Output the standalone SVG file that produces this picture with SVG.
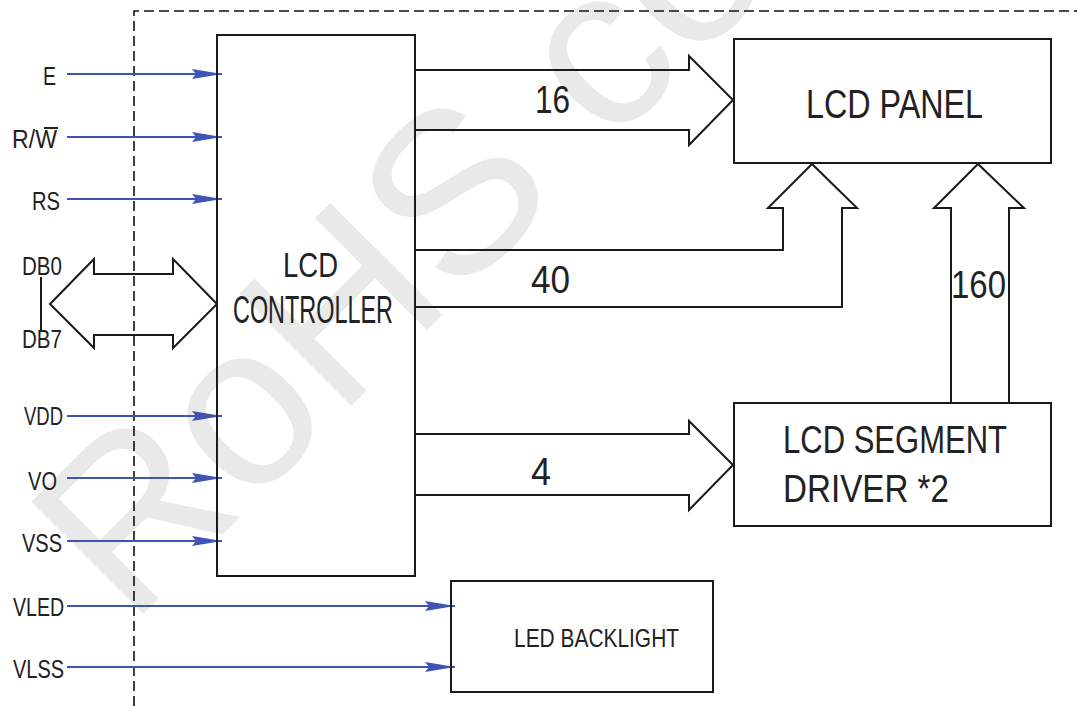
<svg xmlns="http://www.w3.org/2000/svg" width="1077" height="706" viewBox="0 0 1077 706">
<style>
.box{fill:none;stroke:#1a1a1a;stroke-width:2}
.bus{fill:none;stroke:#1a1a1a;stroke-width:2;stroke-linejoin:miter}
.sig{fill:none;stroke:#4054b4;stroke-width:2}
.dash{fill:none;stroke:#111;stroke-width:1.6;stroke-dasharray:10 5}
.t{font-family:"Liberation Sans",Arial,sans-serif;fill:#222}
.big{font-size:38px}
.lbl{font-size:25px}
.wm{font-family:"Liberation Sans",Arial,sans-serif;font-size:230px;fill:#e9e9e9}
</style>
<defs>
<marker id="ah" viewBox="0 0 30 10" refX="30" refY="5" markerWidth="30" markerHeight="10" markerUnits="userSpaceOnUse" orient="auto">
<path d="M0,0 L30,5 L0,10 L4,5 Z" fill="#4054b4"/>
</marker>
</defs>
<rect width="1077" height="706" fill="#fff"/>
<text class="wm" x="130" y="627" transform="rotate(-45 130 627)">RoHS co</text>

<g id="frame">
<path class="dash" d="M134,706 V11 H1077"/>
</g>

<g id="connectors">
<line class="sig" x1="67" y1="74" x2="222" y2="74" marker-end="url(#ah)"/>
<line class="sig" x1="67" y1="137" x2="222" y2="137" marker-end="url(#ah)"/>
<line class="sig" x1="67" y1="199" x2="222" y2="199" marker-end="url(#ah)"/>
<line class="sig" x1="67" y1="416" x2="222" y2="416" marker-end="url(#ah)"/>
<line class="sig" x1="67" y1="478" x2="222" y2="478" marker-end="url(#ah)"/>
<line class="sig" x1="67" y1="541" x2="222" y2="541" marker-end="url(#ah)"/>
<line class="sig" x1="67" y1="606" x2="455" y2="606" marker-end="url(#ah)"/>
<line class="sig" x1="67" y1="667" x2="455" y2="667" marker-end="url(#ah)"/>
<path class="bus" d="M50,304 L94,259 V274 H173 V259 L217,304 L173,348 V335 H94 V348 Z"/>
<line class="bus" x1="41" y1="277" x2="41" y2="330"/>
<path class="bus" d="M415,70 H689 V56 L733,100 L689,145 V130 H415"/>
<path class="bus" d="M415,250 H783 V208 H768 L812,164 L857,208 H842 V307 H415"/>
<path class="bus" d="M951,403 V208 H934 L978,164 L1024,208 H1009 V403"/>
<path class="bus" d="M415,434 H689 V421 L733,465 L689,510 V495 H415"/>
<text class="t big" x="535" y="113" textLength="35" lengthAdjust="spacingAndGlyphs">16</text>
<text class="t big" x="531" y="293" textLength="39" lengthAdjust="spacingAndGlyphs">40</text>
<text class="t big" x="531" y="485" textLength="20" lengthAdjust="spacingAndGlyphs">4</text>
<text class="t big" x="951" y="298" textLength="55" lengthAdjust="spacingAndGlyphs">160</text>
</g>

<g id="labels">
<text class="t lbl" x="43" y="85" textLength="13" lengthAdjust="spacingAndGlyphs">E</text>
<text class="t lbl" x="12" y="148" textLength="45" lengthAdjust="spacingAndGlyphs">R/W</text>
<line x1="44" y1="128" x2="58" y2="128" stroke="#222" stroke-width="2"/>
<text class="t lbl" x="32" y="210" textLength="28" lengthAdjust="spacingAndGlyphs">RS</text>
<text class="t lbl" x="22" y="275" textLength="40" lengthAdjust="spacingAndGlyphs">DB0</text>
<text class="t lbl" x="22" y="348" textLength="40" lengthAdjust="spacingAndGlyphs">DB7</text>
<text class="t lbl" x="24" y="425" textLength="39" lengthAdjust="spacingAndGlyphs">VDD</text>
<text class="t lbl" x="28" y="490" textLength="29" lengthAdjust="spacingAndGlyphs">VO</text>
<text class="t lbl" x="22" y="552" textLength="40" lengthAdjust="spacingAndGlyphs">VSS</text>
<text class="t lbl" x="13" y="616" textLength="51" lengthAdjust="spacingAndGlyphs">VLED</text>
<text class="t lbl" x="13" y="678" textLength="51" lengthAdjust="spacingAndGlyphs">VLSS</text>
</g>

<g id="controller">
<rect class="box" x="217" y="35" width="198" height="541"/>
<text class="t" font-size="35" x="283" y="277" textLength="55" lengthAdjust="spacingAndGlyphs">LCD</text>
<text class="t big" x="233" y="323" textLength="160" lengthAdjust="spacingAndGlyphs">CONTROLLER</text>
</g>

<g id="panel">
<rect class="box" x="734" y="39" width="317" height="124"/>
<text class="t" font-size="40" x="806" y="118" textLength="177" lengthAdjust="spacingAndGlyphs">LCD  PANEL</text>
</g>

<g id="segment">
<rect class="box" x="734" y="403" width="317" height="123"/>
<text class="t" font-size="39" x="783" y="453" textLength="224" lengthAdjust="spacingAndGlyphs">LCD  SEGMENT</text>
<text class="t" font-size="39" x="783" y="502" textLength="166" lengthAdjust="spacingAndGlyphs">DRIVER  *2</text>
</g>

<g id="backlight">
<rect class="box" x="451" y="581" width="262" height="111"/>
<text class="t" font-size="26" x="514" y="647" textLength="165" lengthAdjust="spacingAndGlyphs">LED  BACKLIGHT</text>
</g>
</svg>
